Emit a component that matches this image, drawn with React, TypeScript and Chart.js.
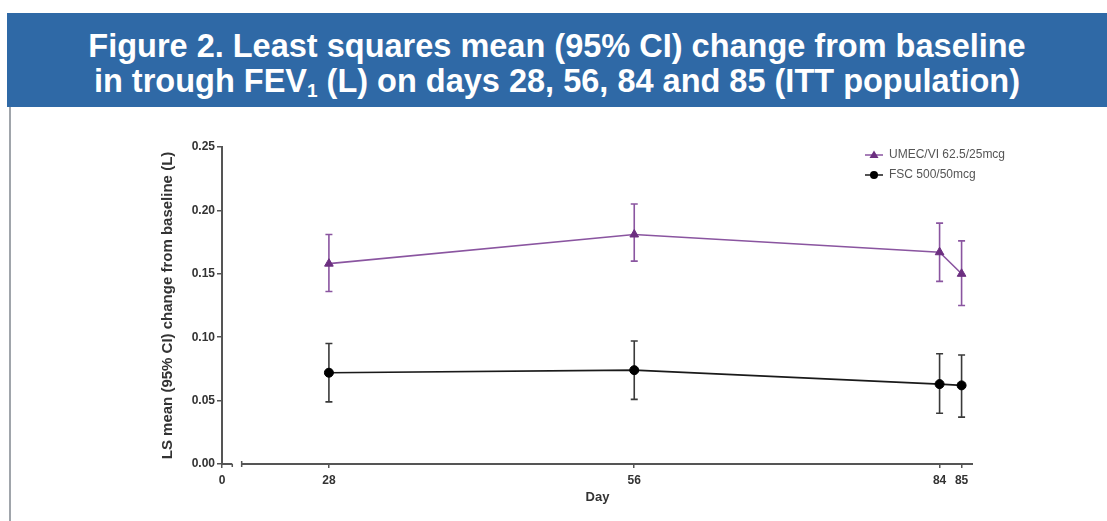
import React, { useEffect, useRef } from 'react';
import { Chart, registerables, LinearScale } from 'chart.js';

// Study days with measurements and the labelled ticks on the day axis
const days = [28, 56, 84, 85];
const dayTicks = [0, 28, 56, 84, 85];
const yTicks = [0, 0.05, 0.1, 0.15, 0.2, 0.25];

// UMEC/VI 62.5/25mcg: LS mean change (L) and 95% CI
const umecMean = [0.158, 0.181, 0.167, 0.150];
const umecLower = [0.136, 0.160, 0.144, 0.125];
const umecUpper = [0.181, 0.205, 0.190, 0.176];

// FSC 500/50mcg: LS mean change (L) and 95% CI
const fscMean = [0.072, 0.074, 0.063, 0.062];
const fscLower = [0.049, 0.051, 0.040, 0.037];
const fscUpper = [0.095, 0.097, 0.087, 0.086];

const seriesNames = ['UMEC/VI 62.5/25mcg', 'FSC 500/50mcg'];

// Piecewise day axis: a short stub at 0, a break, then the study period.
// Each knot is [day, fraction of axis width].
const DAY_KNOTS: [number, number][] = [
  [0, 0],
  [1, 0.0137],
  [20, 0.0262],
  [84, 0.9555],
  [85, 0.9848],
  [87, 1],
];
const BREAK_FROM = 1;
const BREAK_TO = 20;

class BrokenDayScale extends LinearScale {
  static id = 'brokenDay';
  static defaults = {};

  getPixelForValue(value: number) {
    const k = DAY_KNOTS;
    let f = k[0][1];
    if (value >= k[k.length - 1][0]) {
      f = k[k.length - 1][1];
    } else {
      for (let i = 0; i < k.length - 1; i++) {
        if (value >= k[i][0] && value <= k[i + 1][0]) {
          f = k[i][1] + ((value - k[i][0]) / (k[i + 1][0] - k[i][0])) * (k[i + 1][1] - k[i][1]);
          break;
        }
      }
    }
    return this.getPixelForDecimal(f);
  }

  getValueForPixel(pixel: number) {
    const f = this.getDecimalForPixel(pixel);
    const k = DAY_KNOTS;
    for (let i = 0; i < k.length - 1; i++) {
      if (f >= k[i][1] && f <= k[i + 1][1]) {
        return k[i][0] + ((f - k[i][1]) / (k[i + 1][1] - k[i][1])) * (k[i + 1][0] - k[i][0]);
      }
    }
    return f <= 0 ? k[0][0] : k[k.length - 1][0];
  }
}

Chart.register(...registerables, BrokenDayScale);

const PURPLE_LINE = '#8a55a0';
const PURPLE_MARK = '#6c2f80';
const BLACK = '#1a1a1a';
const AXIS = '#555555';
const FONT = '"Liberation Sans", Arial, Helvetica, sans-serif';

// Vertical 95% CI bars with end caps
const errorBarsPlugin = {
  id: 'errorBars',
  beforeDatasetsDraw(chart: any) {
    const { ctx, scales } = chart;
    const x = scales.x;
    const y = scales.y;
    chart.data.datasets.forEach((ds: any) => {
      ctx.save();
      ctx.strokeStyle = ds.ciColor;
      ctx.lineWidth = 1.6;
      ds.data.forEach((pt: any, i: number) => {
        const px = x.getPixelForValue(pt.x);
        const yl = y.getPixelForValue(ds.ciLower[i]);
        const yh = y.getPixelForValue(ds.ciUpper[i]);
        ctx.beginPath();
        ctx.moveTo(px, yl);
        ctx.lineTo(px, yh);
        ctx.moveTo(px - 3.5, yl);
        ctx.lineTo(px + 3.5, yl);
        ctx.moveTo(px - 3.5, yh);
        ctx.lineTo(px + 3.5, yh);
        ctx.stroke();
      });
      ctx.restore();
    });
  },
};

// Day axis line drawn in two pieces around the break
const brokenAxisPlugin = {
  id: 'brokenAxis',
  afterDraw(chart: any) {
    const { ctx, scales, chartArea } = chart;
    const x = scales.x;
    const yb = chartArea.bottom;
    const p0 = x.getPixelForValue(x.min);
    const p1 = x.getPixelForValue(BREAK_FROM);
    const p2 = x.getPixelForValue(BREAK_TO);
    const p3 = x.getPixelForValue(x.max);
    ctx.save();
    ctx.strokeStyle = AXIS;
    ctx.lineWidth = 2;
    ctx.beginPath();
    ctx.moveTo(p0, yb);
    ctx.lineTo(p1, yb);
    ctx.moveTo(p2, yb);
    ctx.lineTo(p3, yb);
    ctx.stroke();
    ctx.lineWidth = 1.5;
    ctx.beginPath();
    ctx.moveTo(p1, yb);
    ctx.lineTo(p1, yb + 3);
    ctx.moveTo(p2, yb - 3);
    ctx.lineTo(p2, yb + 3);
    ctx.stroke();
    ctx.restore();
  },
};

// Legend in the upper right of the plot
const legendPlugin = {
  id: 'cornerLegend',
  afterDraw(chart: any) {
    const { ctx } = chart;
    const x0 = 865;
    const rows = [155, 175];
    chart.data.datasets.forEach((ds: any, i: number) => {
      const yy = rows[i];
      ctx.save();
      ctx.strokeStyle = ds.borderColor;
      ctx.lineWidth = 1.5;
      ctx.beginPath();
      ctx.moveTo(x0, yy);
      ctx.lineTo(x0 + 18, yy);
      ctx.stroke();
      ctx.fillStyle = ds.pointBackgroundColor;
      const cx = x0 + 9;
      ctx.beginPath();
      if (ds.pointStyle === 'triangle') {
        ctx.moveTo(cx, yy - 4.5);
        ctx.lineTo(cx + 4.5, yy + 3);
        ctx.lineTo(cx - 4.5, yy + 3);
        ctx.closePath();
      } else {
        ctx.arc(cx, yy, 4, 0, Math.PI * 2);
      }
      ctx.fill();
      ctx.fillStyle = '#555';
      ctx.font = `12px ${FONT}`;
      ctx.textAlign = 'left';
      ctx.textBaseline = 'middle';
      ctx.fillText(ds.label, x0 + 24, yy);
      ctx.restore();
    });
  },
};

function FevChart() {
  const canvasRef = useRef<HTMLCanvasElement | null>(null);

  useEffect(() => {
    const canvas = canvasRef.current;
    if (!canvas) return;
    const chart = new Chart(canvas, {
      type: 'line',
      data: {
        datasets: [
          {
            label: seriesNames[0],
            data: days.map((d, i) => ({ x: d, y: umecMean[i] })),
            ciLower: umecLower,
            ciUpper: umecUpper,
            ciColor: PURPLE_LINE,
            borderColor: PURPLE_LINE,
            borderWidth: 1.6,
            pointStyle: 'triangle',
            pointRadius: 5,
            pointBackgroundColor: PURPLE_MARK,
            pointBorderColor: PURPLE_MARK,
            pointBorderWidth: 1,
            tension: 0,
          } as any,
          {
            label: seriesNames[1],
            data: days.map((d, i) => ({ x: d, y: fscMean[i] })),
            ciLower: fscLower,
            ciUpper: fscUpper,
            ciColor: '#3a3a3a',
            borderColor: BLACK,
            borderWidth: 1.6,
            pointStyle: 'circle',
            pointRadius: 4.5,
            pointBackgroundColor: '#000',
            pointBorderColor: '#000',
            pointBorderWidth: 1,
            tension: 0,
          } as any,
        ],
      },
      options: {
        responsive: false,
        animation: false,
        devicePixelRatio: 1,
        layout: { padding: { left: 159, top: 147, right: 134, bottom: 12 } },
        plugins: {
          legend: { display: false },
          tooltip: { enabled: false },
          title: { display: false },
        },
        scales: {
          x: {
            type: 'brokenDay' as any,
            position: 'bottom',
            min: 0,
            max: 87,
            afterBuildTicks: (scale: any) => {
              scale.ticks = dayTicks.map((v) => ({ value: v }));
            },
            afterFit: (scale: any) => {
              scale.height = 45;
            },
            border: { display: false },
            grid: {
              display: true,
              drawOnChartArea: false,
              drawTicks: true,
              tickLength: 4,
              color: AXIS,
              lineWidth: 1.5,
            },
            ticks: {
              autoSkip: false,
              maxRotation: 0,
              padding: 5,
              color: '#333',
              font: { family: FONT, size: 12, weight: 'bold' },
              callback: (v: any) => String(v),
            },
            title: {
              display: true,
              text: 'Day',
              color: '#333',
              font: { family: FONT, size: 13, weight: 'bold' },
              padding: { top: 0, bottom: 4 },
            },
          },
          y: {
            type: 'linear',
            position: 'left',
            min: 0,
            max: 0.25,
            afterBuildTicks: (scale: any) => {
              scale.ticks = yTicks.map((v) => ({ value: v }));
            },
            afterFit: (scale: any) => {
              scale.width = 63;
            },
            border: { display: true, color: AXIS, width: 2 },
            grid: {
              display: true,
              drawOnChartArea: false,
              drawTicks: true,
              tickLength: 5,
              color: AXIS,
              lineWidth: 1.5,
            },
            ticks: {
              padding: 2,
              color: '#333',
              font: { family: FONT, size: 12, weight: 'bold' },
              callback: (v: any) => Number(v).toFixed(2),
            },
            title: {
              display: true,
              text: 'LS mean (95% CI) change from baseline (L)',
              color: '#333',
              font: { family: FONT, size: 15, weight: 'bold' },
              padding: { top: 0, bottom: 0 },
            },
          },
        },
      },
      plugins: [errorBarsPlugin, brokenAxisPlugin, legendPlugin],
    });
    return () => chart.destroy();
  }, []);

  return (
    <canvas
      ref={canvasRef}
      width={1107}
      height={521}
      style={{ position: 'absolute', left: 0, top: 0, width: 1107, height: 521 }}
    />
  );
}

export default function App() {
  return (
    <div
      style={{
        position: 'absolute',
        left: 0,
        top: 0,
        width: 1107,
        height: 521,
        background: '#ffffff',
        overflow: 'hidden',
      }}
    >
      <FevChart />
      <div
        style={{
          position: 'absolute',
          left: 7,
          top: 13,
          width: 1100,
          height: 94,
          background: '#2f69a6',
          color: '#ffffff',
          fontFamily: FONT,
          fontWeight: 'bold',
          fontSize: 32.5,
          lineHeight: '35px',
          textAlign: 'center',
          paddingTop: 16,
          boxSizing: 'border-box',
          whiteSpace: 'nowrap',
        }}
      >
        <div>Figure 2. Least squares mean (95% CI) change from baseline</div>
        <div>
          in trough FEV
          <sub style={{ fontSize: 19, lineHeight: 0, verticalAlign: '-5px' }}>1</sub> (L) on days 28,
          56, 84 and 85 (ITT population)
        </div>
      </div>
      <div
        style={{
          position: 'absolute',
          left: 9,
          top: 107,
          width: 2,
          height: 414,
          background: '#a0a5ab',
        }}
      />
    </div>
  );
}
